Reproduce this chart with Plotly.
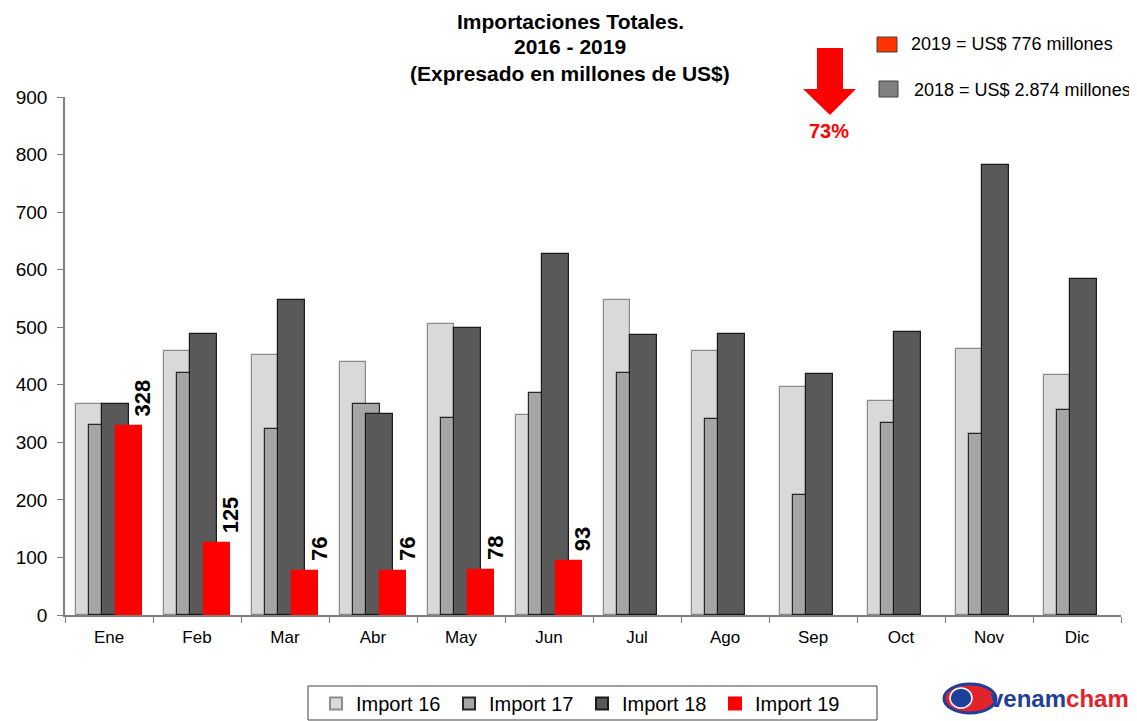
import plotly.graph_objects as go

months = ["Ene", "Feb", "Mar", "Abr", "May", "Jun", "Jul", "Ago", "Sep", "Oct", "Nov", "Dic"]
import16 = [366, 459, 452, 440, 505, 347, 547, 459, 396, 371, 463, 417]
import17 = [330, 420, 324, 366, 342, 386, 420, 340, 208, 333, 314, 357]
import18 = [366, 488, 548, 349, 499, 628, 486, 489, 418, 491, 782, 583]
import19 = [328, 125, 76, 76, 78, 93]
y_ticks = [0, 100, 200, 300, 400, 500, 600, 700, 800, 900]
title_lines = ["Importaciones Totales.", "2016 - 2019", "(Expresado en millones de US$)"]

# page body has an 8px margin: work in window pixels, convert to figure pixels
OFF = 8
W, H = 1137 - OFF, 721 - OFF
PLOT_L, PLOT_R, PLOT_T, PLOT_B = 65, 1121, 97, 615  # window pixels
L = PLOT_L - OFF
T = PLOT_T - OFF
R = W - (PLOT_R - OFF)
B = H - (PLOT_B - OFF)
PW, PH = PLOT_R - PLOT_L, PLOT_B - PLOT_T

def px(x):
    return (x - PLOT_L) / PW

def py(y):
    return (PLOT_B - y) / PH

series = [
    ("Import 16", import16, "#D9D9D9", "#8C8C8C", -0.375),
    ("Import 17", import17, "#A6A6A6", "#262626", -0.225),
    ("Import 18", import18, "#595959", "#1A1A1A", -0.075),
    ("Import 19", import19, "#FF0000", "#FF0000", 0.075),
]

fig = go.Figure()
for name, vals, col, lcol, off in series:
    fig.add_trace(go.Bar(
        name=name, x=months[:len(vals)], y=vals,
        marker=dict(color=col, line=dict(color=lcol, width=1.2)),
        width=0.3, offset=off,
    ))

FONT = "Liberation Sans, Arial"
annotations = []
for i, v in enumerate(import19):
    annotations.append(dict(
        x=i + 0.225, y=v, xref="x", yref="y", text=f"<b>{v}</b>",
        textangle=-90, showarrow=False, xanchor="center", yanchor="bottom",
        xshift=14, yshift=8, font=dict(size=22, color="black", family=FONT),
    ))

# title, one annotation per line
for line, ty in zip(title_lines, [21, 47, 73]):
    annotations.append(dict(
        x=px(570), y=py(ty), xref="paper", yref="paper", showarrow=False,
        text=f"<b>{line}</b>", font=dict(size=21, color="black", family=FONT),
        xanchor="center", yanchor="middle",
    ))
# 73%
annotations.append(dict(
    x=px(829), y=py(131), xref="paper", yref="paper", showarrow=False,
    text="<b>73%</b>", font=dict(size=20, color="#FF0000", family=FONT),
    xanchor="center", yanchor="middle",
))
annotations.append(dict(
    x=px(909), y=py(44), xref="paper", yref="paper", showarrow=False,
    text="2019 = US$ 776 millones", font=dict(size=18, color="black", family=FONT),
    xanchor="left", yanchor="middle",
))
annotations.append(dict(
    x=px(912), y=py(90), xref="paper", yref="paper", showarrow=False,
    text="2018 = US$ 2.874 millones", font=dict(size=18, color="black", family=FONT),
    xanchor="left", yanchor="middle",
))
# logo text
annotations.append(dict(
    x=px(1131), y=py(698), xref="paper", yref="paper", showarrow=False,
    text="<b><span style='color:#1F3F9A'>venam</span><span style='color:#E2232A'>cham</span></b>",
    font=dict(size=24, family=FONT),
    xanchor="right", yanchor="middle",
))

arrow_pts = [(817, 48), (843, 48), (843, 89), (856, 89), (830, 115), (803, 89), (817, 89)]
path = "M " + " L ".join(f"{px(x):.5f},{py(y):.5f}" for x, y in arrow_pts) + " Z"
shapes = [
    dict(type="path", xref="paper", yref="paper", path=path,
         fillcolor="#FF0000", line=dict(width=0)),
    dict(type="rect", xref="paper", yref="paper", x0=px(877), x1=px(897), y0=py(37), y1=py(52),
         fillcolor="#FF3300", line=dict(color="#404040", width=1)),
    dict(type="rect", xref="paper", yref="paper", x0=px(879), x1=px(898), y0=py(81), y1=py(97),
         fillcolor="#808080", line=dict(color="#404040", width=1)),
    # legend frame
    dict(type="rect", xref="paper", yref="paper", x0=px(308), x1=px(877), y0=py(686), y1=py(720),
         fillcolor="rgba(0,0,0,0)", line=dict(color="#404040", width=1)),
    # logo emblem
    dict(type="circle", xref="paper", yref="paper", x0=px(944), x1=px(996), y0=py(684), y1=py(713),
         fillcolor="#E2232A", line=dict(color="#1F3F9A", width=3)),
    dict(type="circle", xref="paper", yref="paper", x0=px(950), x1=px(972), y0=py(688), y1=py(708),
         fillcolor="#1F3F9A", line=dict(color="white", width=1.5)),
]

fig.update_layout(
    width=W, height=H,
    margin=dict(l=L, r=R, t=T, b=B, autoexpand=False),
    paper_bgcolor="white", plot_bgcolor="white",
    barmode="overlay",
    bargap=0,
    font=dict(family=FONT, color="black"),
    xaxis=dict(
        type="category", range=[-0.5, 11.5], showline=True, linecolor="#7F7F7F", linewidth=1.5,
        ticks="outside", tickson="boundaries", ticklen=6, tickcolor="#7F7F7F",
        tickfont=dict(size=17), showgrid=False, automargin=False, ticklabelstandoff=6,
    ),
    yaxis=dict(
        range=[0, 900], tickvals=y_ticks, showline=True, linecolor="#7F7F7F", linewidth=1.5,
        ticks="outside", ticklen=6, tickcolor="#7F7F7F", tickfont=dict(size=19),
        showgrid=False, zeroline=False, automargin=False, ticklabelstandoff=6,
    ),
    legend=dict(
        orientation="h", x=px(316), y=py(684), xanchor="left", yanchor="top",
        borderwidth=0, bgcolor="rgba(0,0,0,0)", font=dict(size=20),
        itemsizing="constant", traceorder="normal", entrywidth=88,
    ),
    showlegend=True,
    annotations=annotations,
    shapes=shapes,
)

fig.write_html("out.html")
